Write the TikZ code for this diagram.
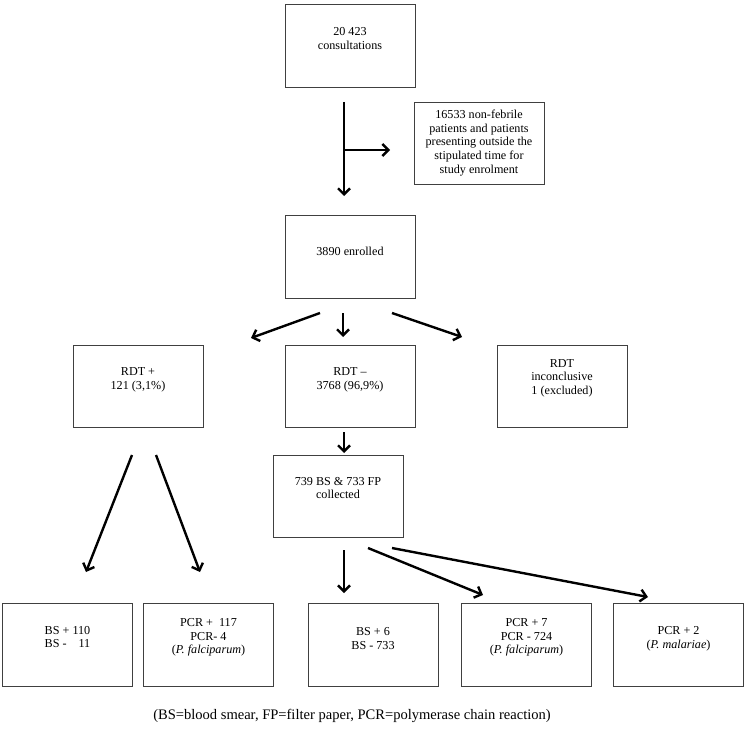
\documentclass[tikz,border=0pt]{standalone}
\usepackage{fontspec}
\setmainfont{Liberation Serif}
\usetikzlibrary{arrows.meta,calc}
\tikzset{
  box/.style={draw=black!75, line width=0.9bp, minimum width=130bp, minimum height=83bp, inner sep=0pt, fill=white},
  txt/.style={align=center, font=\fontsize{12.2}{13.6}\selectfont, inner sep=0pt},
  captxt/.style={font=\fontsize{14.6}{16}\selectfont, inner sep=0pt},
  arr/.style={line width=2.4bp, -{Straight Barb[length=6bp,width=12bp]}}
}
\begin{document}
\begin{tikzpicture}[x=1bp,y=-1bp]
\useasboundingbox[fill=white] (0,0) rectangle (751,730);
% boxes
\node[box] (A) at (350,45.5) {};
\node[box, minimum height=82bp] (B) at (479,143) {};
\node[box] (C) at (350,257) {};
\node[box, minimum height=82bp] (Rp) at (138,386) {};
\node[box, minimum height=82bp] (Rm) at (350,386) {};
\node[box, minimum height=82bp] (Ri) at (562,386) {};
\node[box, minimum height=82bp] (E) at (338,496) {};
\node[box] (D1) at (67.5,644.5) {};
\node[box] (D2) at (208.5,644.5) {};
\node[box] (D3) at (373,644.5) {};
\node[box] (D4) at (526.5,644.5) {};
\node[box] (D5) at (678.5,644.5) {};
% texts
\node[txt] (tA) at ([yshift=7bp]A.center) {20 423\\consultations};
\node[txt] (tB) at (B.center) {16533 non-febrile\\patients and patients\\presenting outside the\\stipulated time for\\study enrolment};
\node[txt] (tC) at ([yshift=6bp]C.center) {3890 enrolled};
\node[txt] (tRp) at ([yshift=6bp]Rp.center) {RDT +\\121 (3,1\%)};
\node[txt] (tRm) at ([yshift=6bp]Rm.center) {RDT --\\3768 (96,9\%)};
\node[txt] (tRi) at ([yshift=8bp]Ri.center) {RDT\\inconclusive\\1 (excluded)};
\node[txt] (tE) at ([yshift=8bp]E.center) {739 BS \& 733 FP\\collected};
\node[txt] (tD1) at ([yshift=6bp]D1.center) {\begin{tabular}{@{}l@{\ }r@{}}BS + & 110\\BS - & 11\end{tabular}};
\node[txt] (tD2) at ([yshift=7bp]D2.center) {PCR + \ 117\\PCR- 4\\(\textit{P. falciparum})};
\node[txt] (tD3) at ([yshift=6bp]D3.center) {BS + 6\\BS - 733};
\node[txt] (tD4) at ([yshift=7bp]D4.center) {PCR + 7\\PCR - 724\\(\textit{P. falciparum})};
\node[txt] (tD5) at ([yshift=6bp]D5.center) {PCR + 2\\(\textit{P. malariae})};
\node[captxt] (cap) at (352,716) {(BS=blood smear, FP=filter paper, PCR=polymerase chain reaction)};
% connector end points
\coordinate (a0) at (344,102);
\coordinate (a1) at (344,196);
\coordinate (b0) at (344,150);
\coordinate (b1) at (390,150);
\coordinate (c1s) at (320,313); \coordinate (c1e) at (251,338);
\coordinate (c2s) at (343,313); \coordinate (c2e) at (343,337);
\coordinate (c3s) at (392,313); \coordinate (c3e) at (462,337);
\coordinate (d0) at (344,432); \coordinate (d1) at (344,453);
\coordinate (e1s) at (132,455); \coordinate (e1e) at (86,572);
\coordinate (e2s) at (156,455); \coordinate (e2e) at (200,572);
\coordinate (f1s) at (344,550); \coordinate (f1e) at (344,593);
\coordinate (f2s) at (368,548); \coordinate (f2e) at (483,595);
\coordinate (f3s) at (392,548); \coordinate (f3e) at (648,597);
% arrows
\draw[arr] (a0) -- (a1);
\draw[arr] (b0) -- (b1);
\draw[arr] (c1s) -- (c1e);
\draw[arr] (c2s) -- (c2e);
\draw[arr] (c3s) -- (c3e);
\draw[arr] (d0) -- (d1);
\draw[arr] (e1s) -- (e1e);
\draw[arr] (e2s) -- (e2e);
\draw[arr] (f1s) -- (f1e);
\draw[arr] (f2s) -- (f2e);
\draw[arr] (f3s) -- (f3e);
\end{tikzpicture}
\end{document}
